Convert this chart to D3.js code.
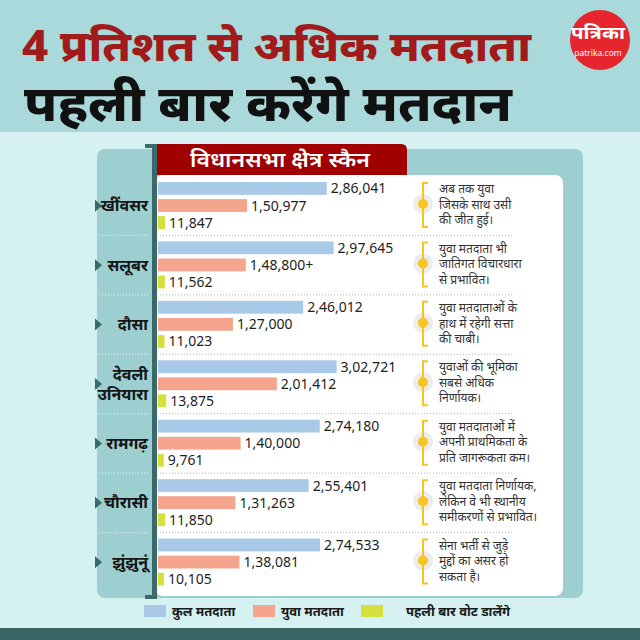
<!DOCTYPE html>
<html><head><meta charset="utf-8">
<script src="https://cdn.jsdelivr.net/npm/d3@7"></script>
<style>
html,body{margin:0;padding:0;background:#d5f1f1;}
svg{display:block;font-family:"Noto Sans","Noto Sans Devanagari",sans-serif;}
</style></head>
<body><svg id="c" width="640" height="640"></svg>
<script>
// ---- data ----
const categories = ["खींवसर", "सलूबर", "दौसा", "देवली उनियारा", "रामगढ़", "चौरासी", "झुंझुनूं"];
const totalVoters = [286041, 297645, 246012, 302721, 274180, 255401, 274533];
const youthVoters = [150977, 148800, 127000, 201412, 140000, 131263, 138081];
const firstTimeVoters = [11847, 11562, 11023, 13875, 9761, 11850, 10105];
const youthSuffix = ["", "+", "", "", "", "", ""];
const seriesKeys = ["total", "youth", "first"];
const seriesNames = ["कुल मतदाता", "युवा मतदाता", "पहली बार वोट डालेंगे"];
const seriesColors = ["#a9c9e9", "#f5a58d", "#d6e03c"];
const notes = [
  ["अब तक युवा", "जिसके साथ उसी", "की जीत हुई।"],
  ["युवा मतदाता भी", "जातिगत विचारधारा", "से प्रभावित।"],
  ["युवा मतदाताओं के", "हाथ में रहेगी सत्ता", "की चाबी।"],
  ["युवाओं की भूमिका", "सबसे अधिक", "निर्णायक।"],
  ["युवा मतदाताओं में", "अपनी प्राथमिकता के", "प्रति जागरूकता कम।"],
  ["युवा मतदाता निर्णायक,", "लेकिन वे भी स्थानीय", "समीकरणों से प्रभावित।"],
  ["सेना भर्ती से जुड़े", "मुद्दों का असर हो", "सकता है।"]
];
const titleLine1 = "4 प्रतिशत से अधिक मतदाता";
const titleLine2 = "पहली बार करेंगे मतदान";
const panelTitle = "विधानसभा क्षेत्र स्कैन";

// Indian digit grouping
function fmtIN(v){
  const s = String(v);
  if (s.length <= 3) return s;
  const last3 = s.slice(-3);
  let rest = s.slice(0, -3);
  const parts = [];
  while (rest.length > 2){ parts.unshift(rest.slice(-2)); rest = rest.slice(0, -2); }
  if (rest.length) parts.unshift(rest);
  return parts.join(",") + "," + last3;
}

const rows = categories.map((c, i) => ({
  name: c, idx: i,
  values: [
    {key: "total", v: totalVoters[i], label: fmtIN(totalVoters[i])},
    {key: "youth", v: youthVoters[i], label: fmtIN(youthVoters[i]) + youthSuffix[i]},
    {key: "first", v: firstTimeVoters[i], label: fmtIN(firstTimeVoters[i])}
  ]
}));

const svg = d3.select("#c");

// ---- background ----
svg.append("rect").attr("x",0).attr("y",0).attr("width",640).attr("height",640).attr("fill","#d5f1f1");
svg.append("rect").attr("x",0).attr("y",0).attr("width",640).attr("height",132).attr("fill","#a9d9da");
svg.append("rect").attr("x",0).attr("y",628).attr("width",640).attr("height",12).attr("fill","#3b6464");

// titles
function fitText(sel, w){ sel.attr("textLength", w).attr("lengthAdjust","spacingAndGlyphs"); }
svg.append("text").attr("x",22).attr("y",61).attr("font-size",42).attr("font-weight",800)
  .attr("fill","#a11a1c").text(titleLine1).call(fitText, 509);
svg.append("text").attr("x",24).attr("y",121).attr("font-size",50).attr("font-weight",800)
  .attr("fill","#111").text(titleLine2).call(fitText, 488);

// logo
svg.append("circle").attr("cx",600).attr("cy",40).attr("r",30).attr("fill","#e5262c");
svg.append("text").attr("x",598).attr("y",39).attr("text-anchor","middle").attr("font-size",17)
  .attr("font-weight",700).attr("fill","#fff").text("पत्रिका").call(fitText, 54);
svg.append("text").attr("x",598).attr("y",56).attr("text-anchor","middle").attr("font-size",8.5)
  .attr("fill","#fff").text("patrika.com");

// ---- panels ----
svg.append("rect").attr("x",97).attr("y",149).attr("width",486).attr("height",449).attr("rx",8).attr("fill","#9dcfd0");
svg.append("rect").attr("x",155).attr("y",175).attr("width",408).attr("height",421).attr("rx",8).attr("fill","#ffffff");

// red header with rounded top-right
svg.append("path").attr("d","M157,144 H401 Q407,144 407,150 V175 H157 Z").attr("fill","#a00000");
svg.append("text").attr("x",280).attr("y",167).attr("text-anchor","middle").attr("font-size",21)
  .attr("font-weight",600).attr("fill","#fff").text(panelTitle).call(fitText, 180);

// dark bracket
const dark = "#3b6868";
svg.append("rect").attr("x",152).attr("y",144).attr("width",5).attr("height",455).attr("fill",dark);
svg.append("rect").attr("x",145).attr("y",144).attr("width",12).attr("height",4).attr("fill",dark);
svg.append("rect").attr("x",145).attr("y",595).attr("width",12).attr("height",4).attr("fill",dark);

// ---- scales ----
const y = d3.scaleBand().domain(categories).range([176, 592]).paddingInner(0).paddingOuter(0);
const yInner = d3.scaleBand().domain(seriesKeys).range([6, 53]).paddingInner(0.25).paddingOuter(0);
const x = d3.scaleLinear().domain([0, 300000]).range([158, 335]);
const color = d3.scaleOrdinal().domain(seriesKeys).range(seriesColors);

// dividers
const dividers = categories.slice(1);
svg.selectAll("line.divL").data(dividers).join("line").attr("class","divL")
  .attr("x1",99).attr("x2",150).attr("y1",d=>y(d)).attr("y2",d=>y(d))
  .attr("stroke","#e8f6f6").attr("stroke-width",1).attr("stroke-dasharray","1,2");
svg.selectAll("line.divR").data(dividers).join("line").attr("class","divR")
  .attr("x1",160).attr("x2",513).attr("y1",d=>y(d)).attr("y2",d=>y(d))
  .attr("stroke","#b0b0b0").attr("stroke-width",1).attr("stroke-dasharray","1,2");

// rows
const g = svg.selectAll("g.row").data(rows).join("g").attr("class","row")
  .attr("transform", d => `translate(0,${y(d.name)})`);

g.selectAll("rect.bar").data(d => d.values).join("rect").attr("class","bar")
  .attr("x", x(0)).attr("y", d => yInner(d.key))
  .attr("width", d => x(d.v) - x(0)).attr("height", yInner.bandwidth())
  .attr("fill", d => color(d.key));

g.selectAll("text.val").data(d => d.values).join("text").attr("class","val")
  .attr("x", d => x(d.v) + 4).attr("y", d => yInner(d.key) + yInner.bandwidth()/2)
  .attr("dy","0.36em").attr("font-size",14).attr("fill","#1e1e1e")
  .text(d => d.label);

// category labels
g.each(function(d){
  const sel = d3.select(this);
  const cy = y.bandwidth()/2;
  sel.append("path").attr("d", `M95,${cy-6} L102,${cy} L95,${cy+6} Z`).attr("fill", dark);
  const parts = d.name.split(" ");
  const lh = 20;
  const t = sel.append("text").attr("text-anchor","end").attr("font-size",16).attr("font-weight",700).attr("fill","#151515");
  parts.forEach((p, k) => {
    t.append("tspan").attr("x",148).attr("y", cy + (k - (parts.length-1)/2)*lh).attr("dy","0.35em").text(p);
  });
});

// notes
g.each(function(d){
  const sel = d3.select(this);
  const yellow = "#f6c423";
  sel.append("circle").attr("cx",423).attr("cy",28).attr("r",10).attr("fill","#ececec");
  sel.append("path").attr("d","M428,7 H423 V51 H428").attr("fill","none").attr("stroke",yellow).attr("stroke-width",2);
  sel.append("circle").attr("cx",423).attr("cy",28).attr("r",5).attr("fill",yellow);
  const t = sel.append("text").attr("font-size",12).attr("fill","#333");
  notes[d.idx].forEach((line, k) => {
    t.append("tspan").attr("x",439).attr("y", 13 + k*15.5).attr("dy","0.35em").text(line);
  });
});

// legend
const legX = [144, 253, 361];
const legTX = [172, 281, 406];
const leg = svg.selectAll("g.leg").data(seriesKeys).join("g").attr("class","leg");
leg.append("rect").attr("x",(d,i)=>legX[i]).attr("y",605).attr("width",22).attr("height",12).attr("fill",d=>color(d));
leg.append("text").attr("x",(d,i)=>legTX[i]).attr("y",611).attr("dy","0.35em").attr("font-size",13)
  .attr("font-weight",700).attr("fill","#1a1a1a").text((d,i)=>seriesNames[i]);
</script>
</body></html>
